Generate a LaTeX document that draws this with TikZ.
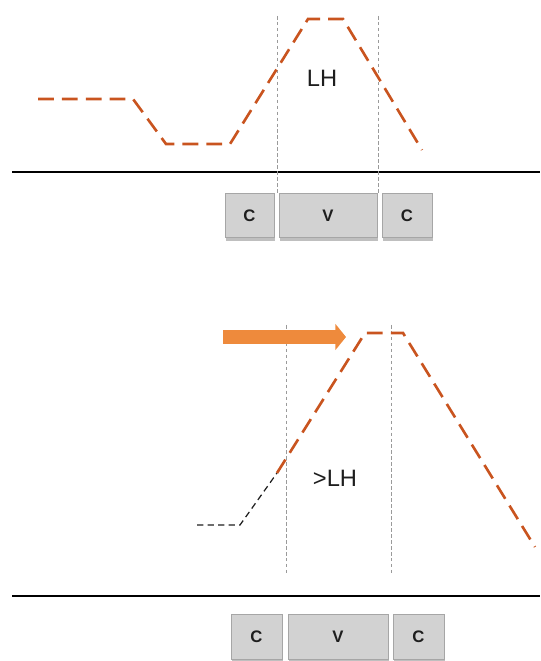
\documentclass[tikz,border=0pt]{standalone}
\usepackage{fontspec}
\setmainfont{Liberation Sans}
\usetikzlibrary{arrows.meta, shadows}
\definecolor{tonered}{HTML}{C9541F}
\definecolor{pushorg}{HTML}{EE8A3C}
\definecolor{segfill}{HTML}{D2D2D2}
\definecolor{segline}{HTML}{A6A6A6}
\definecolor{guidegray}{HTML}{9A9A9A}
\definecolor{inkdark}{HTML}{1E1E1E}

\begin{document}
\begin{tikzpicture}[
  x=0.02cm, y=-0.02cm,
  contour/.style={tonered, line width=1.5pt, dash pattern=on 9pt off 4.6pt, line join=miter},
  lowpart/.style={inkdark, line width=0.7pt, dash pattern=on 3.6pt off 2.4pt},
  guide/.style={guidegray, line width=0.35pt, dash pattern=on 2pt off 1.4pt},
  ground/.style={black, line width=1.2pt},
  seg/.style={draw=segline, fill=segfill, line width=0.5pt, minimum height=0.89cm,
    inner sep=0pt, font=\fontsize{9.5}{11}\selectfont\bfseries, text=inkdark,
    drop shadow={opacity=0.5, shadow xshift=0.8pt, shadow yshift=-1.6pt}},
  tonelab/.style={font=\fontsize{13.5}{15}\selectfont, text=inkdark},
  push/.style={pushorg, line width=7.8pt, -{Triangle[length=6pt, width=14.5pt]}},
]

% Canvas: 540 x 661 px, one unit = one px, y downward
\useasboundingbox (0,0) rectangle (540,661);

% ---------------- top panel: LH ----------------
\pgfmathsetmacro{\gtop}{172}     % baseline
\pgfmathsetmacro{\btop}{215.5}   % box centre line

% --- baseline ---
\coordinate (gtopL) at (12,\gtop);
\coordinate (gtopR) at (540,\gtop);
\draw[ground] (gtopL) -- (gtopR);

% --- syllable boxes ---
\node[seg, minimum width=0.98cm] (ctopA) at (249.5,\btop) {C};
\node[seg, minimum width=1.96cm] (vtop)  at (328,\btop)   {V};
\node[seg, minimum width=1.00cm] (ctopB) at (407,\btop)   {C};

% --- vowel borders ---
\coordinate (gtA1) at (277,16);  \coordinate (gtA2) at (277,193);
\coordinate (gtB1) at (378,16);  \coordinate (gtB2) at (378,193);
\draw[guide] (gtA1) -- (gtA2);
\draw[guide] (gtB1) -- (gtB2);

% --- pitch contour ---
\draw[contour] (38,99) -- (133,99) -- (166,144) -- (230,144)
  -- (308,19) -- (343,19) -- (422,150);

\node[tonelab] (lhtop) at (322,78) {LH};

% ---------------- bottom panel: >LH ----------------
\pgfmathsetmacro{\gbot}{596}
\pgfmathsetmacro{\bbot}{637}

% --- baseline ---
\coordinate (gbotL) at (12,\gbot);
\coordinate (gbotR) at (540,\gbot);
\draw[ground] (gbotL) -- (gbotR);

% --- syllable boxes ---
\node[seg, minimum width=1.02cm] (cbotA) at (256.5,\bbot) {C};
\node[seg, minimum width=2.00cm] (vbot)  at (338,\bbot)   {V};
\node[seg, minimum width=1.02cm] (cbotB) at (418.5,\bbot) {C};

% --- vowel borders ---
\coordinate (gbA1) at (286,325);  \coordinate (gbA2) at (286,575);
\coordinate (gbB1) at (391,325);  \coordinate (gbB2) at (391,575);
\draw[guide] (gbA1) -- (gbA2);
\draw[guide] (gbB1) -- (gbB2);

% --- pitch contour (low part, then shifted rise) ---
\coordinate (riseS) at (277,473);
\draw[lowpart] (197,525) -- (240,525) -- (riseS);
\draw[contour] (riseS) -- (365,333) -- (403,333) -- (535,547);

% --- shift arrow ---
\coordinate (pushS) at (223,337);
\coordinate (pushE) at (346,337);
\draw[push] (pushS) -- (pushE);

\node[tonelab] (lhbot) at (335,478) {>LH};

\end{tikzpicture}
\end{document}
